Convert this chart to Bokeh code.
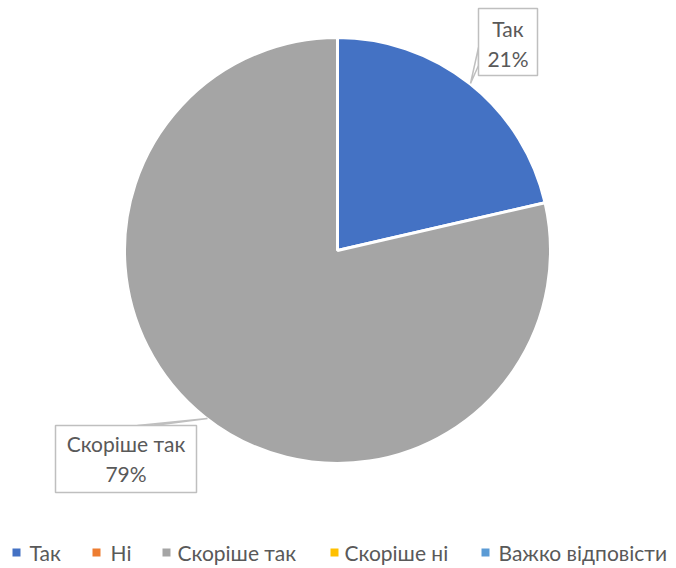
import math
from bokeh.plotting import figure
from bokeh.models import Range1d, ColumnDataSource
from bokeh.core.properties import value
from bokeh.embed import file_html
from bokeh.resources import INLINE

categories = ["Так", "Ні", "Скоріше так", "Скоріше ні", "Важко відповісти"]
values = [21.4, 0, 78.6, 0, 0]
colors = ["#4472C4", "#ED7D31", "#A5A5A5", "#FFC000", "#5B9BD5"]

W, H = 676, 568
FONT = "Lato"
TXT = "#595959"
FS = "21px"

total = float(sum(values))
percent_labels = ["%d%%" % round(v / total * 100) for v in values]

p = figure(width=W, height=H, output_backend="svg", toolbar_location=None,
           x_range=Range1d(0, W), y_range=Range1d(0, H),
           min_border=0, outline_line_color=None)
p.axis.visible = False
p.grid.visible = False

def Y(y):
    return H - y

cx, cy, r = 337, Y(250), 213
starts, ends = [], []
acc = 0.0
for v in values:
    starts.append(math.pi / 2 - acc / total * 2 * math.pi)
    acc += v
    ends.append(math.pi / 2 - acc / total * 2 * math.pi)

view_idx = [i for i, v in enumerate(values) if v > 0]
ws = ColumnDataSource(dict(color=[colors[i] for i in view_idx],
                           start=[starts[i] for i in view_idx],
                           end=[ends[i] for i in view_idx]))
p.wedge(x=cx, y=cy, radius=r, start_angle="start", end_angle="end",
        direction="clock", fill_color="color", line_color="white",
        line_width=3, source=ws)

# callouts
border = "#BFBFBF"
# Так
p.patch([478, 470, 478], [Y(47), Y(83), Y(65)], fill_color="white",
        line_color=border, line_width=1.5)
p.rect(x=[507.5], y=[Y(41.5)], width=59, height=67, fill_color="white",
       line_color=border, line_width=1.5)
p.text(x=[507.5, 507.5], y=[Y(28), Y(58)],
       text=[categories[0], percent_labels[0]], text_font=value(FONT),
       text_font_size=FS, text_color=TXT, text_align="center",
       text_baseline="middle")
# Скоріше так
p.patch([137, 207, 153], [Y(425), Y(418), Y(425)], fill_color="white",
        line_color=border, line_width=1.5)
p.rect(x=[125.5], y=[Y(458.5)], width=141, height=67, fill_color="white",
       line_color=border, line_width=1.5)
p.text(x=[125.5, 125.5], y=[Y(443), Y(473)],
       text=[categories[2], percent_labels[2]], text_font=value(FONT),
       text_font_size=FS, text_color=TXT, text_align="center",
       text_baseline="middle")

# legend
sq_x = [16, 96, 166, 334, 485]
tx_x = [29, 110, 177, 344, 498]
p.rect(x=sq_x, y=[Y(552)] * 5, width=8, height=8, fill_color=colors,
       line_color=None)
p.text(x=tx_x, y=[Y(552)] * 5, text=categories, text_font=value(FONT),
       text_font_size=FS, text_color=TXT, text_align="left",
       text_baseline="middle")

open("out.html", "w").write(file_html(p, INLINE))
